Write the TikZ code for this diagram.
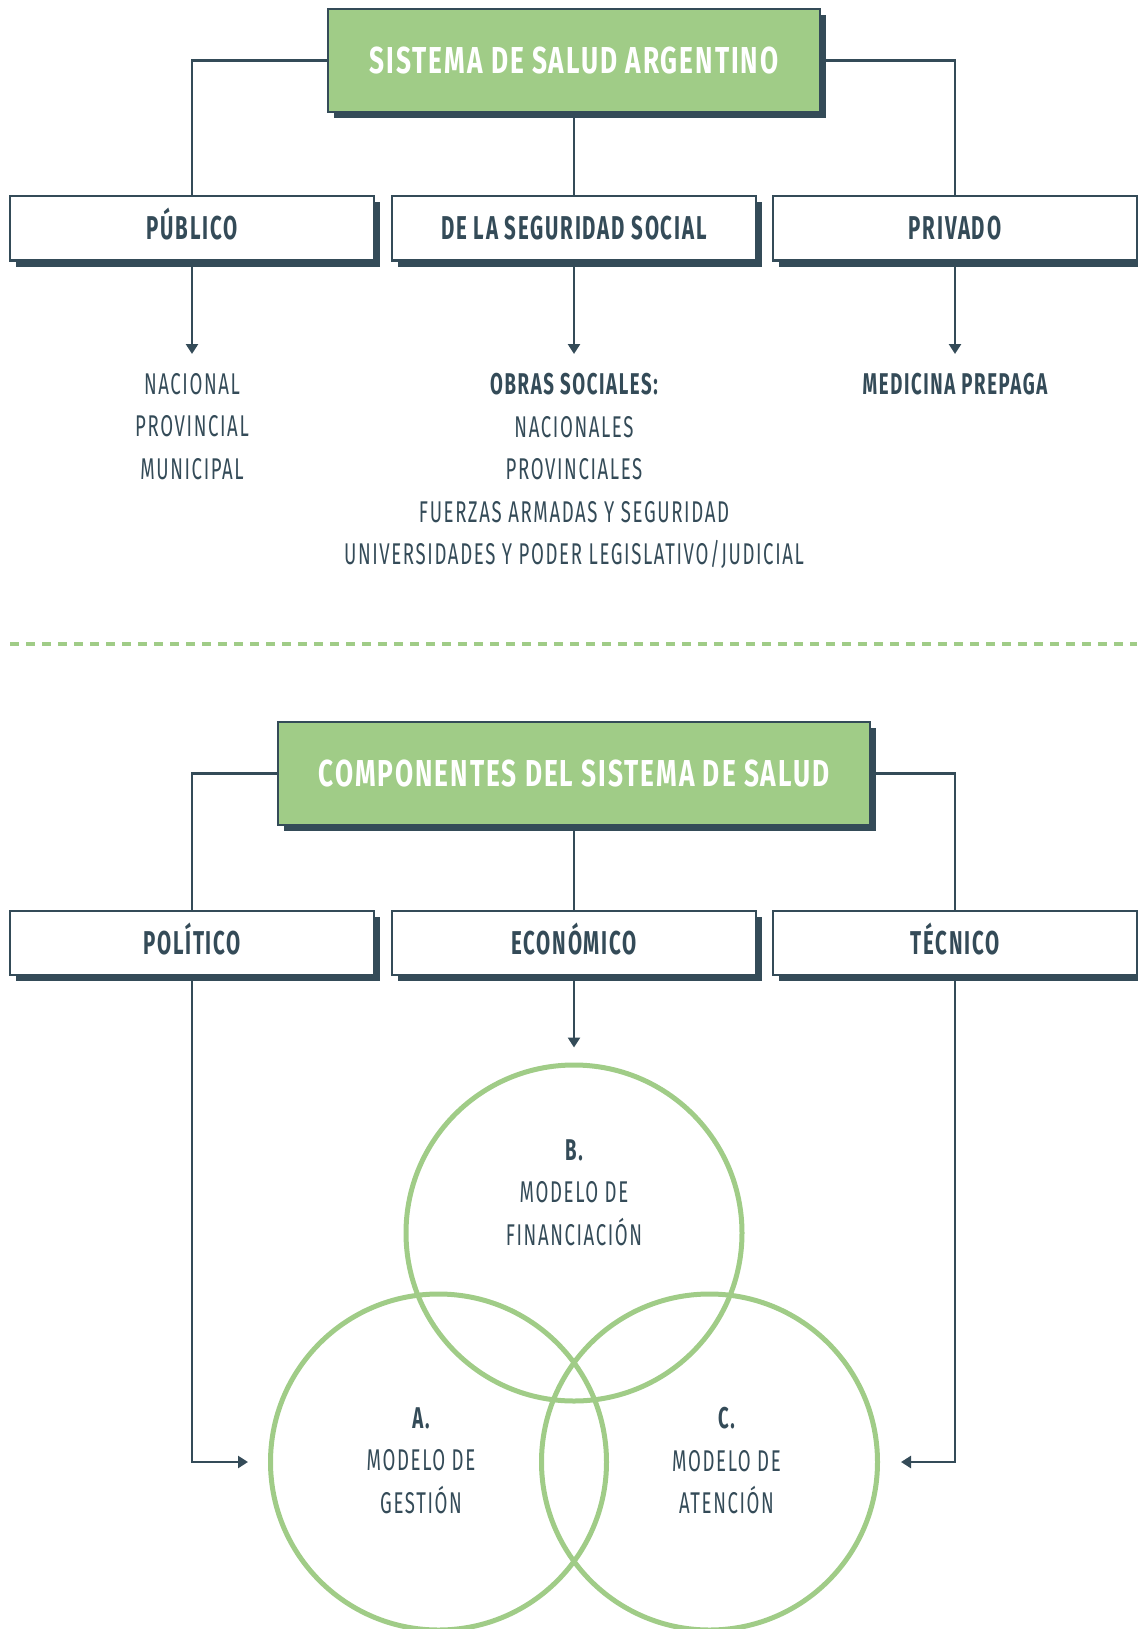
\documentclass[tikz,border=0pt]{standalone}
\usepackage{fontspec}
\setmainfont{Fira Sans}[FakeStretch=0.62, LetterSpace=5.4]
\newfontfamily\headfont{Fira Sans}[FakeStretch=0.7, LetterSpace=5.3]
\usetikzlibrary{positioning}
\usetikzlibrary{calc}
\usetikzlibrary{shadows}
\usetikzlibrary{arrows.meta}
\definecolor{slate}{RGB}{52, 75, 88}
\definecolor{leaf}{RGB}{160, 204, 135}

\tikzset{
  boxshadow/.style={drop shadow={shadow xshift=6pt, shadow yshift=-6pt, fill=slate, opacity=1}},
  headbox/.style={draw=slate, line width=2.5pt, fill=leaf, text=white, minimum height=103pt,
                  inner sep=0pt, text height=26pt, text depth=0pt,
                  font=\headfont\fontsize{37.5}{40}\selectfont\bfseries, boxshadow},
  sectorbox/.style={draw=slate, line width=2pt, fill=white, text=slate, minimum width=364pt,
                    minimum height=64pt, inner sep=0pt, text height=22.5pt, text depth=0pt,
                    font=\fontsize{33}{36}\selectfont\bfseries, boxshadow},
  listtext/.style={text=slate, align=center, inner sep=0pt, font=\fontsize{30}{42.5}\selectfont},
  venn/.style={circle, draw=leaf, line width=5pt, minimum size=336pt, inner sep=0pt},
  wire/.style={slate, line width=2.5pt},
  wirearrow/.style={wire, -{Triangle[length=10pt, width=12pt]}},
}

\begin{document}
\begin{tikzpicture}[x=1pt, y=-1pt]
    \useasboundingbox (0,0) rectangle (1137,1629);

    % Sistema de salud
    \node[headbox, minimum width=492pt] (sys) at (574, 60.5) {SISTEMA DE SALUD ARGENTINO};
    \node[sectorbox] (pub) at (192, 228.5) {PÚBLICO};
    \node[sectorbox] (seg) at (574, 228.5) {DE LA SEGURIDAD SOCIAL};
    \node[sectorbox] (pri) at (955, 228.5) {PRIVADO};
    \draw[wire] (sys.west) -| (pub.north);
    \draw[wire] (sys.south) -- (seg.north);
    \draw[wire] (sys.east) -| (pri.north);

    \node[listtext, anchor=north] (pubtxt) at (192, 373) {NACIONAL\\PROVINCIAL\\MUNICIPAL};
    \node[listtext, anchor=north] (segtxt) at (574, 373)
        {{\bfseries OBRAS SOCIALES:}\\NACIONALES\\PROVINCIALES\\FUERZAS ARMADAS Y SEGURIDAD\\UNIVERSIDADES Y PODER LEGISLATIVO/JUDICIAL};
    \node[listtext, anchor=north] (pritxt) at (955, 373) {\bfseries MEDICINA PREPAGA};
    \draw[wirearrow, shorten >=19pt] (pub.south) -- (pubtxt.north);
    \draw[wirearrow, shorten >=19pt] (seg.south) -- (segtxt.north);
    \draw[wirearrow, shorten >=19pt] (pri.south) -- (pritxt.north);

    % Separador
    \coordinate (sepL) at (10, 644);
    \coordinate (sepR) at (1137, 644);
    \draw[leaf, line width=3.5pt, dash pattern=on 9pt off 7pt] (sepL) -- (sepR);

    % Componentes
    \node[headbox, minimum width=592pt] (comp) at (574, 773.5) {COMPONENTES DEL SISTEMA DE SALUD};
    \node[sectorbox] (pol) at (192, 943) {POLÍTICO};
    \node[sectorbox] (eco) at (574, 943) {ECONÓMICO};
    \node[sectorbox] (tec) at (955, 943) {TÉCNICO};
    \draw[wire] (comp.west) -| (pol.north);
    \draw[wire] (comp.south) -- (eco.north);
    \draw[wire] (comp.east) -| (tec.north);

    \node[venn] (finan) at (574, 1233) {};
    \node[venn] (gest) at (438.5, 1462) {};
    \node[venn] (aten) at (709.5, 1462) {};
    \node[listtext, anchor=north] (finantxt) at (574, 1139) {{\bfseries B.}\\MODELO DE\\FINANCIACIÓN};
    \node[listtext, anchor=north] (gesttxt) at (421, 1407) {{\bfseries A.}\\MODELO DE\\GESTIÓN};
    \node[listtext, anchor=north] (atentxt) at (726.5, 1407) {{\bfseries C.}\\MODELO DE\\ATENCIÓN};

    \draw[wirearrow, shorten >=15pt] (eco.south) -- (finan.north);
    \draw[wirearrow, shorten >=20pt] (pol.south) |- (gest.west);
    \draw[wirearrow, shorten >=21pt] (tec.south) |- (aten.east);
\end{tikzpicture}
\end{document}
